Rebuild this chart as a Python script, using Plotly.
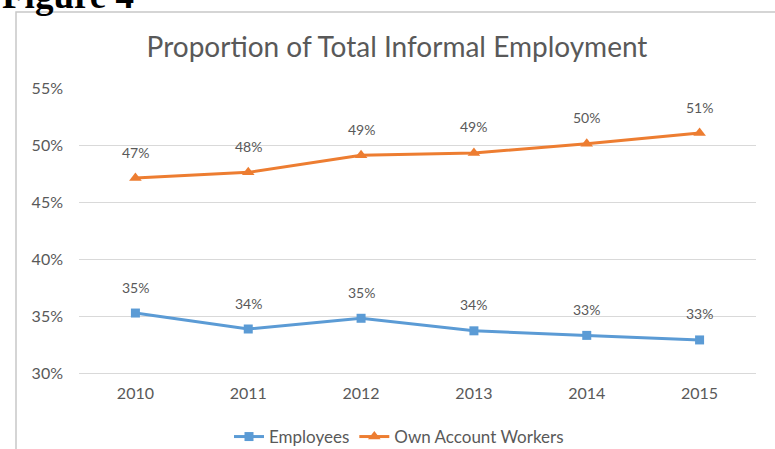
import plotly.graph_objects as go

years = ["2010", "2011", "2012", "2013", "2014", "2015"]
employees = [35.26, 33.86, 34.8, 33.7, 33.3, 32.9]
own_account = [47.1, 47.6, 49.1, 49.3, 50.1, 51.05]
y_ticks = [30, 35, 40, 45, 50, 55]
y_tick_labels = ["30%", "35%", "40%", "45%", "50%", "55%"]

BLUE = "#5B9BD5"
ORANGE = "#ED7D31"
GRAY_TXT = "#595959"

W, H = 775, 449
L, R, T, B = 79, 19, 88, 76
PW, PH = W - L - R, H - T - B

def px_x(p):
    return (p - L) / PW

def px_y(p):
    return 1 - (p - T) / PH

fig = go.Figure()
fig.add_trace(go.Scatter(
    x=years, y=employees, name="Employees", mode="lines+markers",
    line=dict(color=BLUE, width=3),
    marker=dict(symbol="square", size=9, color=BLUE),
))
fig.add_trace(go.Scatter(
    x=years, y=own_account, name="Own Account Workers", mode="lines+markers",
    line=dict(color=ORANGE, width=3),
    marker=dict(symbol="triangle-up", size=11, color=ORANGE),
))

annotations = []
for series in (employees, own_account):
    for i, yv in enumerate(series):
        annotations.append(dict(
            x=i, y=yv, xref="x", yref="y", text=f"{yv:.0f}%",
            showarrow=False, yshift=26,
            font=dict(family="Lato", size=14, color=GRAY_TXT),
        ))

annotations.append(dict(
    x=px_x(0), y=px_y(-4), xref="paper", yref="paper",
    xanchor="left", yanchor="middle", text="<b>Figure 4</b>",
    showarrow=False, font=dict(family="Liberation Serif", size=37, color="#000000"),
))

fig.update_layout(
    width=W, height=H,
    margin=dict(l=L, r=R, t=T, b=B),
    paper_bgcolor="white", plot_bgcolor="white",
    title=dict(
        text="Proportion of Total Informal Employment",
        x=397 / W, xref="container", xanchor="center",
        y=1 - 47 / H, yref="container", yanchor="middle",
        font=dict(family="Lato", size=28, color=GRAY_TXT),
    ),
    xaxis=dict(
        type="category", showgrid=False, showline=True, linecolor="#D9D9D9",
        linewidth=1, ticks="", tickfont=dict(family="Lato", size=16, color=GRAY_TXT),
        range=[-0.5, 5.5], ticklabelstandoff=6,
    ),
    yaxis=dict(
        range=[30, 55], tickvals=y_ticks, ticktext=y_tick_labels,
        showgrid=True, gridcolor="#D9D9D9", gridwidth=1, zeroline=False,
        ticks="", ticklabelstandoff=15,
        tickfont=dict(family="Lato", size=16, color=GRAY_TXT),
    ),
    legend=dict(
        orientation="h", x=399 / W, xref="container", xanchor="center",
        y=1 - 437 / H, yref="container", yanchor="middle",
        font=dict(family="Lato", size=17, color=GRAY_TXT),
    ),
    showlegend=True,
    annotations=annotations,
    shapes=[dict(
        type="rect", xref="paper", yref="paper",
        x0=px_x(16), x1=px_x(790), y0=px_y(12), y1=px_y(470),
        line=dict(color="#C8C8C8", width=1.5), fillcolor="rgba(0,0,0,0)",
        layer="below",
    )],
)

fig.write_html("out.html")
